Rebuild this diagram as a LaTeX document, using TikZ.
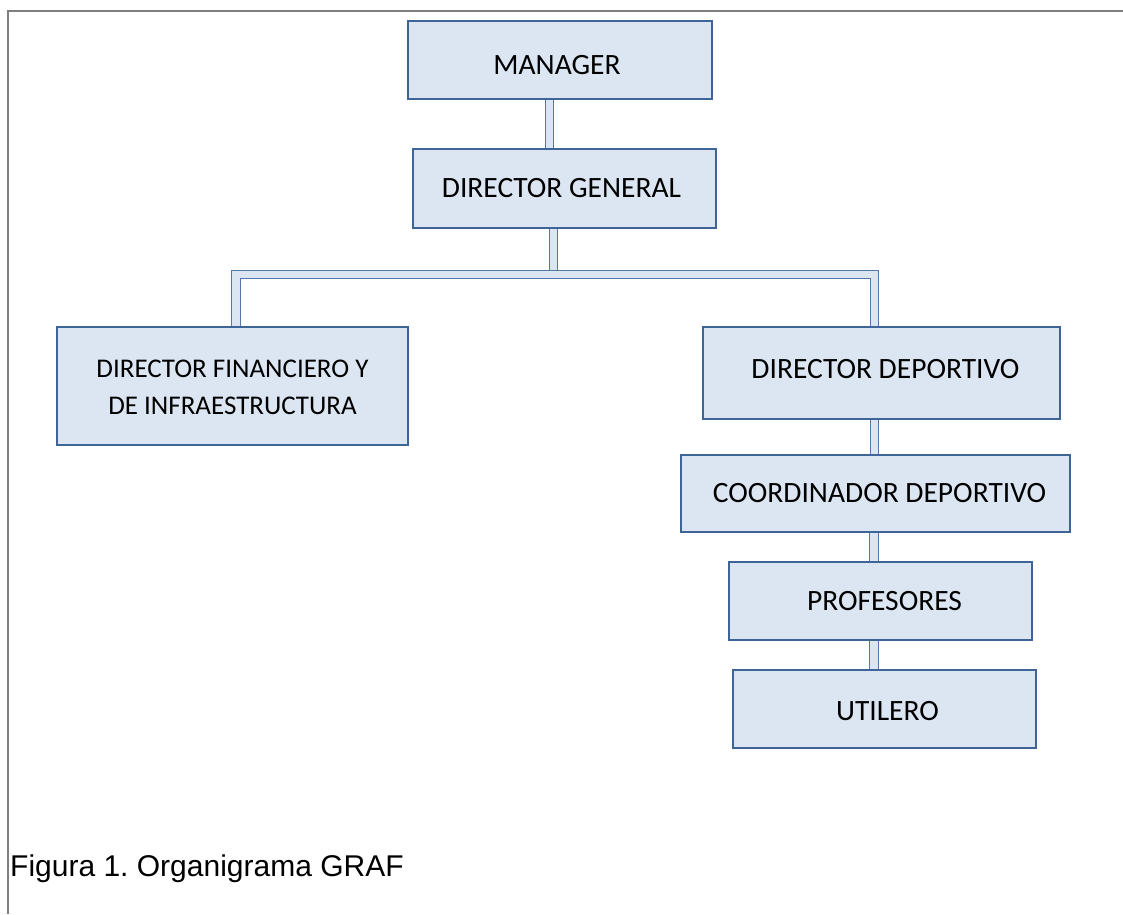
\documentclass[tikz,border=0pt]{standalone}
\usepackage{fontspec}
\setmainfont{Carlito}
\newfontfamily\capfont{Liberation Sans}
\usetikzlibrary{backgrounds}
\definecolor{boxfill}{HTML}{DCE6F2}
\definecolor{boxline}{HTML}{3F6597}
\definecolor{connline}{HTML}{5478AC}
\definecolor{frameline}{HTML}{7F7F7F}
\tikzset{
  orgbox/.style={draw=boxline, fill=boxfill, line width=2.8pt, inner sep=0pt, outer sep=0pt,
    font=\fontsize{29.5}{37}\selectfont, align=center},
  conn/.style={draw=connline, line width=1.3pt, double=boxfill, double distance=7.3pt, line join=miter},
}
\begin{document}
\frenchspacing
\begin{tikzpicture}[x=1pt,y=-1pt]
\useasboundingbox (0,0) rectangle (1123,914);
% frame
\draw[frameline, line width=1.6pt] (8,914) -- (8,11) -- (1123,11);
% boxes
\node[orgbox, minimum width=304pt, minimum height=78pt] (M) at (560,60) {\raisebox{-5pt}[\height][\depth]{MANAGER\hspace{6pt}}};
\node[orgbox, minimum width=303pt, minimum height=79pt] (DG) at (564.5,188.5) {DIRECTOR GENERAL\hspace{6pt}};
\node[orgbox, minimum width=351pt, minimum height=118pt, font=\fontsize{27}{37}\selectfont] (DF) at (232.5,386) {\raisebox{-3pt}[\height][\depth]{\begin{tabular}{@{}c@{}}DIRECTOR FINANCIERO Y\\DE INFRAESTRUCTURA\end{tabular}}};
\node[orgbox, minimum width=357pt, minimum height=92pt] (DD) at (881.5,373) {\raisebox{4pt}[\height][\depth]{\hspace{8pt}DIRECTOR DEPORTIVO}};
\node[orgbox, minimum width=389pt, minimum height=77pt] (CD) at (875.5,493.5) {\hspace{8pt}COORDINADOR DEPORTIVO};
\node[orgbox, minimum width=303pt, minimum height=78pt] (PR) at (880.5,601) {\hspace{8pt}PROFESORES};
\node[orgbox, minimum width=303pt, minimum height=78pt] (UT) at (884.5,709) {\raisebox{-2pt}[\height][\depth]{\hspace{6pt}UTILERO}};
% connector columns
\coordinate (c1) at (549.5,0);
\coordinate (c2) at (553.5,0);
\coordinate (busL) at (236,274.5);
\coordinate (busR) at (874.5,274.5);
\coordinate (busTop) at (553.5,270);
\coordinate (c3) at (874.5,0);
\coordinate (c4) at (874,0);
\begin{pgfonlayer}{background}
\draw[conn] (M.south -| c1) -- (DG.north -| c1);
\draw[conn] (DG.south -| c2) -- (busTop);
\draw[conn] (DF.north -| busL) -- (busL) -- (busR) -- (DD.north -| busR);
\draw[conn] (DD.south -| c3) -- (CD.north -| c3);
\draw[conn] (CD.south -| c4) -- (PR.north -| c4);
\draw[conn] (PR.south -| c4) -- (UT.north -| c4);
\end{pgfonlayer}
% caption
\node[anchor=base west, inner sep=0pt, font=\capfont\fontsize{30}{36}\selectfont] (cap) at (10,876) {Figura 1. Organigrama GRAF};
\end{tikzpicture}
\end{document}
